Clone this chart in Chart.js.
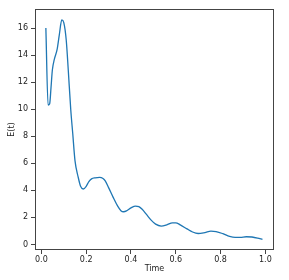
<!DOCTYPE html>
<html lang="en">
<head>
    <meta charset="UTF-8">
    <title>E(t) over time</title>
    <script src="https://cdn.jsdelivr.net/npm/chart.js"></script>
    <style>
        html, body {
            margin: 0;
            padding: 0;
            background: #fff;
            overflow: hidden;
        }
        canvas {
            display: block;
        }
    </style>
</head>
<body>
    <canvas id="energyChart" width="289" height="280"></canvas>

    <script>
        // values
        const timeValues = [
            0.020, 0.030, 0.037, 0.043, 0.049, 0.058, 0.070, 0.080, 0.091, 0.100,
            0.111, 0.120, 0.131, 0.140, 0.150, 0.164, 0.175, 0.187, 0.200, 0.212,
            0.224, 0.240, 0.260, 0.275, 0.285, 0.300, 0.320, 0.340, 0.355, 0.367,
            0.380, 0.400, 0.420, 0.435, 0.450, 0.470, 0.490, 0.510, 0.535, 0.560,
            0.585, 0.600, 0.620, 0.650, 0.675, 0.700, 0.730, 0.757, 0.780, 0.810,
            0.840, 0.865, 0.890, 0.915, 0.940, 0.965, 0.987
        ];
        const energyValues = [
            16.0, 10.3, 10.4, 11.6, 12.9, 13.7, 14.4, 15.5, 16.6, 16.4,
            15.1, 12.9, 10.0, 8.2, 6.2, 5.0, 4.3, 4.1, 4.3, 4.65,
            4.85, 4.93, 4.96, 4.88, 4.7, 4.2, 3.5, 2.85, 2.5, 2.42,
            2.48, 2.7, 2.84, 2.8, 2.6, 2.2, 1.8, 1.5, 1.36, 1.45,
            1.6, 1.6, 1.45, 1.15, 0.92, 0.81, 0.88, 0.98, 0.95, 0.8,
            0.6, 0.52, 0.53, 0.57, 0.55, 0.47, 0.37
        ];
        const xTicks = [0.0, 0.2, 0.4, 0.6, 0.8, 1.0];
        const yTicks = [0, 2, 4, 6, 8, 10, 12, 14, 16];

        const points = timeValues.map((t, i) => ({ x: t, y: energyValues[i] }));

        const tickFont = { family: 'DejaVu Sans', size: 8 };
        const textColor = '#222';

        // matplotlib style box round the plot
        const frame = {
            id: 'frame',
            afterDraw(chart) {
                const { ctx, chartArea: a } = chart;
                ctx.save();
                ctx.strokeStyle = '#444';
                ctx.lineWidth = 1;
                ctx.strokeRect(Math.round(a.left) + 0.5, Math.round(a.top) + 0.5,
                    Math.round(a.right - a.left) - 1, Math.round(a.bottom - a.top) - 1);
                ctx.restore();
            }
        };

        const ctx = document.getElementById('energyChart').getContext('2d');
        const energyChart = new Chart(ctx, {
            type: 'line',
            data: {
                datasets: [{
                    label: 'E(t)',
                    data: points,
                    borderColor: '#1f77b4',
                    borderWidth: 1.3,
                    pointRadius: 0,
                    fill: false,
                    cubicInterpolationMode: 'monotone'
                }]
            },
            options: {
                responsive: false,
                animation: false,
                layout: {
                    padding: { left: 0, top: 9, right: 15, bottom: 0 }
                },
                scales: {
                    x: {
                        type: 'linear',
                        min: -0.0285,
                        max: 1.0385,
                        afterFit: scale => { scale.height = 30; },
                        afterBuildTicks: scale => {
                            scale.ticks = xTicks.map(v => ({ value: v }));
                        },
                        ticks: {
                            font: tickFont,
                            color: textColor,
                            padding: 1,
                            maxRotation: 0,
                            callback: v => v.toFixed(1)
                        },
                        grid: {
                            drawOnChartArea: false,
                            tickLength: 4,
                            color: '#444'
                        },
                        border: { display: false },
                        title: {
                            display: true,
                            text: 'Time',
                            font: tickFont,
                            color: textColor,
                            padding: { top: 0, bottom: 6 }
                        }
                    },
                    y: {
                        type: 'linear',
                        min: -0.41,
                        max: 17.41,
                        afterFit: scale => { scale.width = 35; },
                        afterBuildTicks: scale => {
                            scale.ticks = yTicks.map(v => ({ value: v }));
                        },
                        ticks: {
                            font: tickFont,
                            color: textColor,
                            padding: 3
                        },
                        grid: {
                            drawOnChartArea: false,
                            tickLength: 4,
                            color: '#444'
                        },
                        border: { display: false },
                        title: {
                            display: true,
                            text: 'E(t)',
                            font: tickFont,
                            color: textColor,
                            padding: { top: 7, bottom: 0 }
                        }
                    }
                },
                plugins: {
                    legend: { display: false },
                    tooltip: { enabled: false }
                }
            },
            plugins: [frame]
        });
    </script>
</body>
</html>
